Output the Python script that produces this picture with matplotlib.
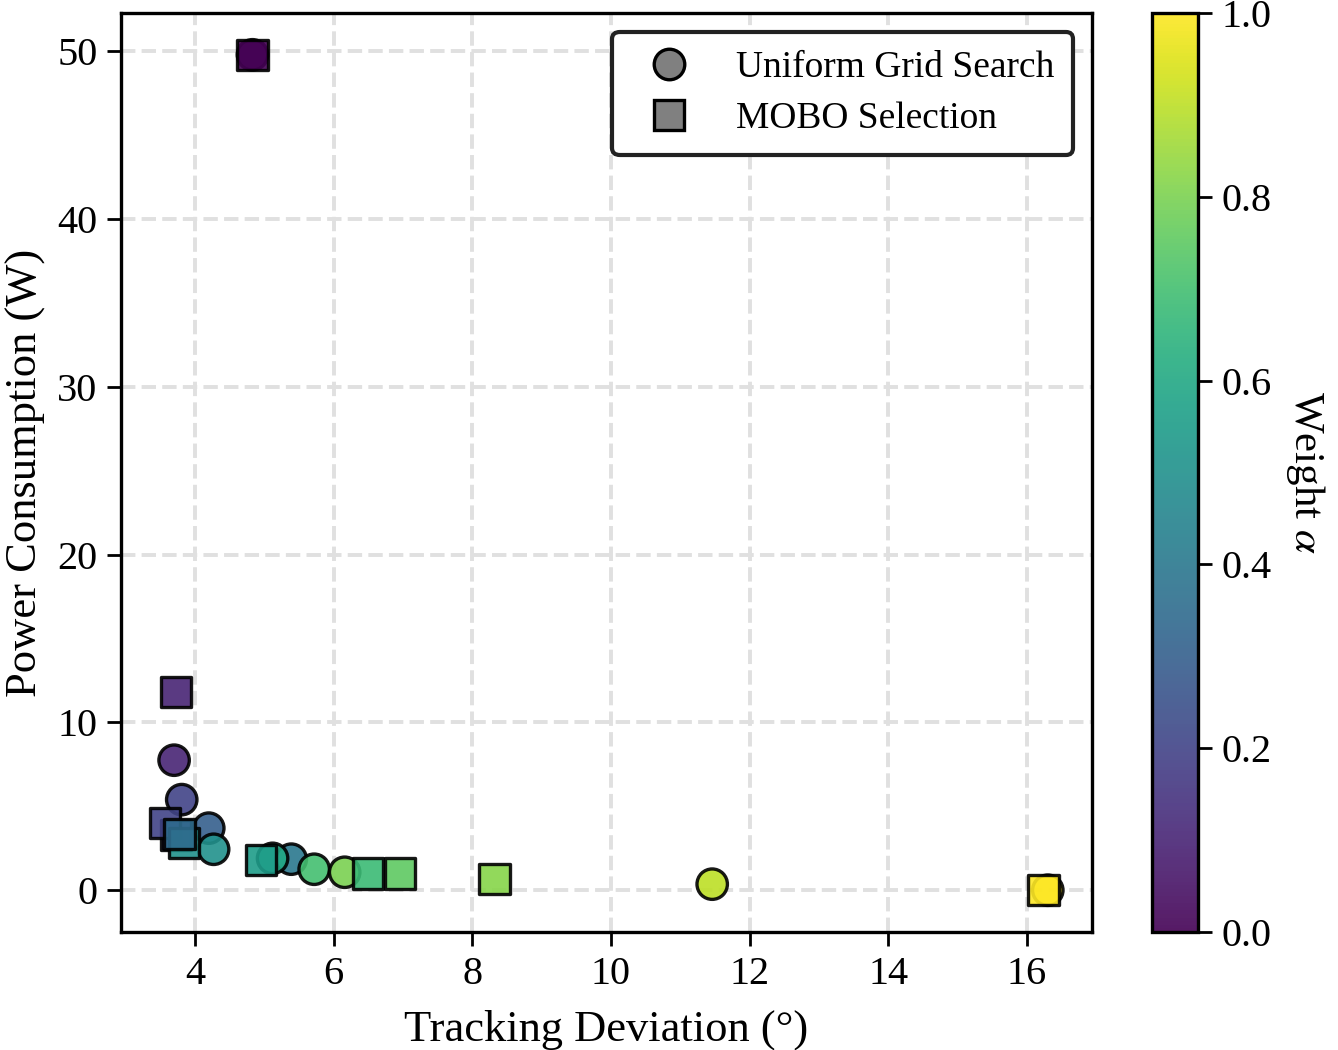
import matplotlib
matplotlib.use("Agg")
import matplotlib.pyplot as plt
from matplotlib.lines import Line2D
import numpy as np

plt.rcParams['font.family'] = ['Liberation Serif', 'DejaVu Serif']
plt.rcParams['mathtext.fontset'] = 'stix'

# Uniform grid search results (weight alpha, tracking deviation, power)
grid_alpha = [0.0, 0.1, 0.2, 0.3, 0.4, 0.5, 0.6, 0.7, 0.8, 0.9, 1.0]
grid_dev = [4.83, 3.70, 3.81, 4.20, 5.39, 4.27, 5.12, 5.72, 6.16, 11.46, 16.30]
grid_power = [49.8, 7.75, 5.4, 3.7, 1.85, 2.44, 1.9, 1.25, 1.07, 0.36, 0.0]

# MOBO selected points
mobo_alpha = [0.0, 0.1, 0.15, 0.2, 0.5, 0.35, 0.55, 0.68, 0.75, 0.82, 1.0]
mobo_dev = [4.83, 3.73, 3.73, 3.57, 3.84, 3.78, 4.95, 6.50, 6.96, 8.32, 16.24]
mobo_power = [49.8, 11.8, 3.3, 4.0, 2.8, 3.35, 1.8, 1.0, 1.0, 0.66, 0.0]

fig = plt.figure(figsize=(6.69, 5.25), dpi=200)
ax = fig.add_axes([0.0904, 0.1124, 0.7257, 0.8752])
cax = fig.add_axes([0.861, 0.1124, 0.034, 0.8752])

sc = ax.scatter(grid_dev, grid_power, c=grid_alpha, cmap='viridis', vmin=0, vmax=1,
                marker='o', s=120, edgecolors='black', linewidths=1.2, alpha=0.9, zorder=3)
ax.scatter(mobo_dev, mobo_power, c=mobo_alpha, cmap='viridis', vmin=0, vmax=1,
           marker='s', s=120, edgecolors='black', linewidths=1.2, alpha=0.9, zorder=4)

ax.grid(True, linestyle='--', color='#e0e0e0', linewidth=1.4)
ax.set_axisbelow(True)
ax.set_xticks([4, 6, 8, 10, 12, 14, 16])
ax.set_yticks([0, 10, 20, 30, 40, 50])
ax.tick_params(labelsize=14.5, length=5, width=1.0)
for sp in ax.spines.values():
    sp.set_linewidth(1.2)
ax.set_xlabel('Tracking Deviation (°)', fontsize=16, labelpad=6)
ax.set_ylabel('Power Consumption (W)', fontsize=16)

handles = [
    Line2D([], [], marker='o', linestyle='none', markersize=11, markerfacecolor='gray',
           markeredgecolor='black', markeredgewidth=1.2, label='Uniform Grid Search'),
    Line2D([], [], marker='s', linestyle='none', markersize=11, markerfacecolor='gray',
           markeredgecolor='black', markeredgewidth=1.2, label='MOBO Selection'),
]
leg = ax.legend(handles=handles, loc='upper right', fontsize=13.5, frameon=True,
                fancybox=True, edgecolor='#222222', framealpha=1.0,
                labelspacing=0.45, borderpad=0.5)
leg.get_frame().set_linewidth(1.5)

cb = fig.colorbar(sc, cax=cax)
cb.set_label(r'Weight $\alpha$', fontsize=15.5, rotation=270, labelpad=20)
cb.ax.tick_params(labelsize=14.5, length=5, width=1.0)
cb.outline.set_linewidth(1.2)
cb.set_ticks([0.0, 0.2, 0.4, 0.6, 0.8, 1.0])

fig.savefig('out.png', dpi=200)
